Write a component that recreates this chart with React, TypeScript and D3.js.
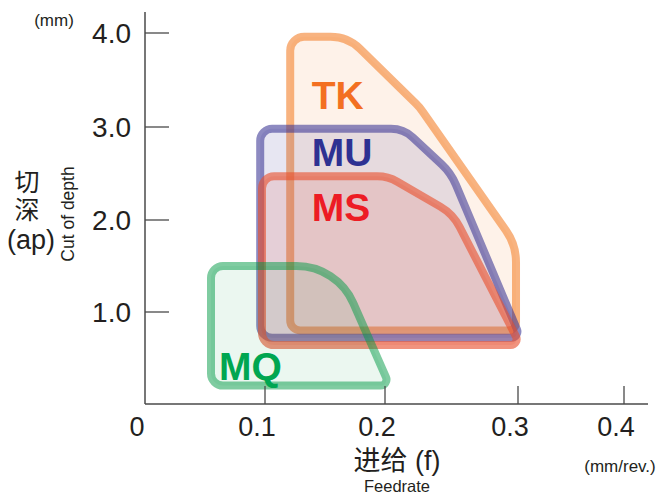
import React from "react";
import * as d3 from "d3";

// ---- data ----
const feedTicks = [0, 0.1, 0.2, 0.3, 0.4];
const feedTickLabels = ["0", "0.1", "0.2", "0.3", "0.4"];
const depthTicks = [1, 2, 3, 4];
const depthTickLabels = ["1.0", "2.0", "3.0", "4.0"];

const seriesNames = ["TK", "MU", "MS", "MQ"];

const tkFeed = [0.121, 0.169, 0.226, 0.2985, 0.2985, 0.121];
const tkDepth = [3.96, 3.96, 3.21, 1.73, 0.8, 0.8];

const muFeed = [0.096, 0.214, 0.2496, 0.3023, 0.096];
const muDepth = [2.98, 2.98, 2.505, 0.72, 0.72];

const msFeed = [0.0975, 0.2023, 0.2511, 0.3023, 0.0975];
const msDepth = [2.47, 2.47, 2.065, 0.64, 0.64];

const mqFeed = [0.055, 0.16, 0.2035, 0.055];
const mqDepth = [1.5, 1.5, 0.2, 0.2];

// label anchor positions (data units)
const labelFeed = [0.139, 0.139, 0.139, 0.0617];
const labelDepth = [3.19, 2.58, 1.99, 0.26];

// ---- styles ----
const W = 660;
const H = 496;
const FONT = "'Liberation Sans', Arial, Helvetica, sans-serif";
const CJK = "'Liberation Sans', 'Noto Sans CJK SC', sans-serif";
const AXIS = "#4a4a4a";
const INK = "#231f20";

const styles = [
  { stroke: "#F58A3C", strokeOpacity: 0.65, fill: "#F9A66C", fillOpacity: 0.15, text: "#F37021", radii: [14, 42, 55, 55, 8, 10] },
  { stroke: "#3A3595", strokeOpacity: 0.58, fill: "#3A3595", fillOpacity: 0.12, text: "#2E3192", radii: [12, 32, 60, 6, 12] },
  { stroke: "#E8502E", strokeOpacity: 0.62, fill: "#E0503A", fillOpacity: 0.15, text: "#ED1C24", radii: [12, 40, 50, 6, 12] },
  { stroke: "#009A44", strokeOpacity: 0.5, fill: "#009A44", fillOpacity: 0.08, text: "#00A651", radii: [12, 62, 6, 12] },
];

const x = d3.scaleLinear().domain(feedTicks).range([145, 265, 385, 518, 624]);
const y = d3.scaleLinear().domain([0, 1, 2, 3, 4]).range([404, 312, 220, 127, 33]);

function roundedPath(fs: number[], ds: number[], radii: number[]) {
  const pts = fs.map((f, i) => [x(f), y(ds[i])]);
  const n = pts.length;
  const p = d3.path();
  const last = pts[n - 1];
  const first = pts[0];
  p.moveTo((last[0] + first[0]) / 2, (last[1] + first[1]) / 2);
  for (let i = 0; i < n; i++) {
    const a = pts[i];
    const b = pts[(i + 1) % n];
    p.arcTo(a[0], a[1], b[0], b[1], radii[i]);
  }
  p.closePath();
  return p.toString();
}

const shapes = [
  [tkFeed, tkDepth],
  [muFeed, muDepth],
  [msFeed, msDepth],
  [mqFeed, mqDepth],
];

export default function App() {
  return (
    <svg
      width={W}
      height={H}
      viewBox={`0 0 ${W} ${H}`}
      style={{ position: "absolute", left: 0, top: 0, background: "#fff" }}
    >
      <rect x={0} y={0} width={W} height={H} fill="#fff" />
      {shapes.map(([fs, ds], i) => (
        <path
          key={seriesNames[i]}
          d={roundedPath(fs, ds, styles[i].radii)}
          fill={styles[i].fill}
          fillOpacity={styles[i].fillOpacity}
          stroke={styles[i].stroke}
          strokeOpacity={styles[i].strokeOpacity}
          strokeWidth={8}
        />
      ))}
      {seriesNames.map((name, i) => (
        <text
          key={"l" + name}
          x={x(labelFeed[i])}
          y={y(labelDepth[i])}
          fill={styles[i].text}
          fontFamily={FONT}
          fontWeight="bold"
          fontSize={39}
        >
          {name}
        </text>
      ))}
      <line x1={x(0)} x2={x(0)} y1={12} y2={y(0)} stroke={AXIS} strokeWidth={1.5} />
      <line x1={x(0)} x2={648} y1={y(0)} y2={y(0)} stroke={AXIS} strokeWidth={1.5} />
      {depthTicks.map((v, i) => (
        <g key={"yt" + v}>
          <line x1={x(0)} x2={x(0) + 24} y1={y(v)} y2={y(v)} stroke={AXIS} strokeWidth={1.3} />
          <text x={131} y={y(v)} dy="0.36em" textAnchor="end" fontFamily={FONT} fontSize={28} fill={INK}>
            {depthTickLabels[i]}
          </text>
        </g>
      ))}
      {feedTicks.map((v, i) => (
        <g key={"xt" + v}>
          {v > 0 && <line x1={x(v)} x2={x(v)} y1={y(0)} y2={y(0) - 18} stroke={AXIS} strokeWidth={1.3} />}
          <text x={x(v) - 8} y={436} textAnchor="middle" fontFamily={FONT} fontSize={27} fill={INK}>
            {feedTickLabels[i]}
          </text>
        </g>
      ))}
      <text x={54} y={26} textAnchor="middle" fontFamily={FONT} fontSize={17} fill={INK}>
        (mm)
      </text>
      <text x={620} y={472} textAnchor="middle" fontFamily={FONT} fontSize={17} fill={INK}>
        (mm/rev.)
      </text>
      {/* y title, stacked */}
      <text textAnchor="middle" fill={INK}>
        <tspan x={27} y={191} fontFamily={CJK} fontSize={25}>切</tspan>
        <tspan x={27} y={219} fontFamily={CJK} fontSize={25}>深</tspan>
        <tspan x={31} y={249} fontFamily={FONT} fontSize={27}>(ap)</tspan>
      </text>
      <text transform="translate(74,214) rotate(-90)" textAnchor="middle" fontFamily={FONT} fontSize={17.5} fill={INK}>
        Cut of depth
      </text>
      {/* x title */}
      <text x={397} y={470} textAnchor="middle" fontFamily={CJK} fontSize={27} fill={INK}>
        进给 (f)
      </text>
      <text x={397} y={492} textAnchor="middle" fontFamily={FONT} fontSize={16.5} fill={INK}>
        Feedrate
      </text>
    </svg>
  );
}
